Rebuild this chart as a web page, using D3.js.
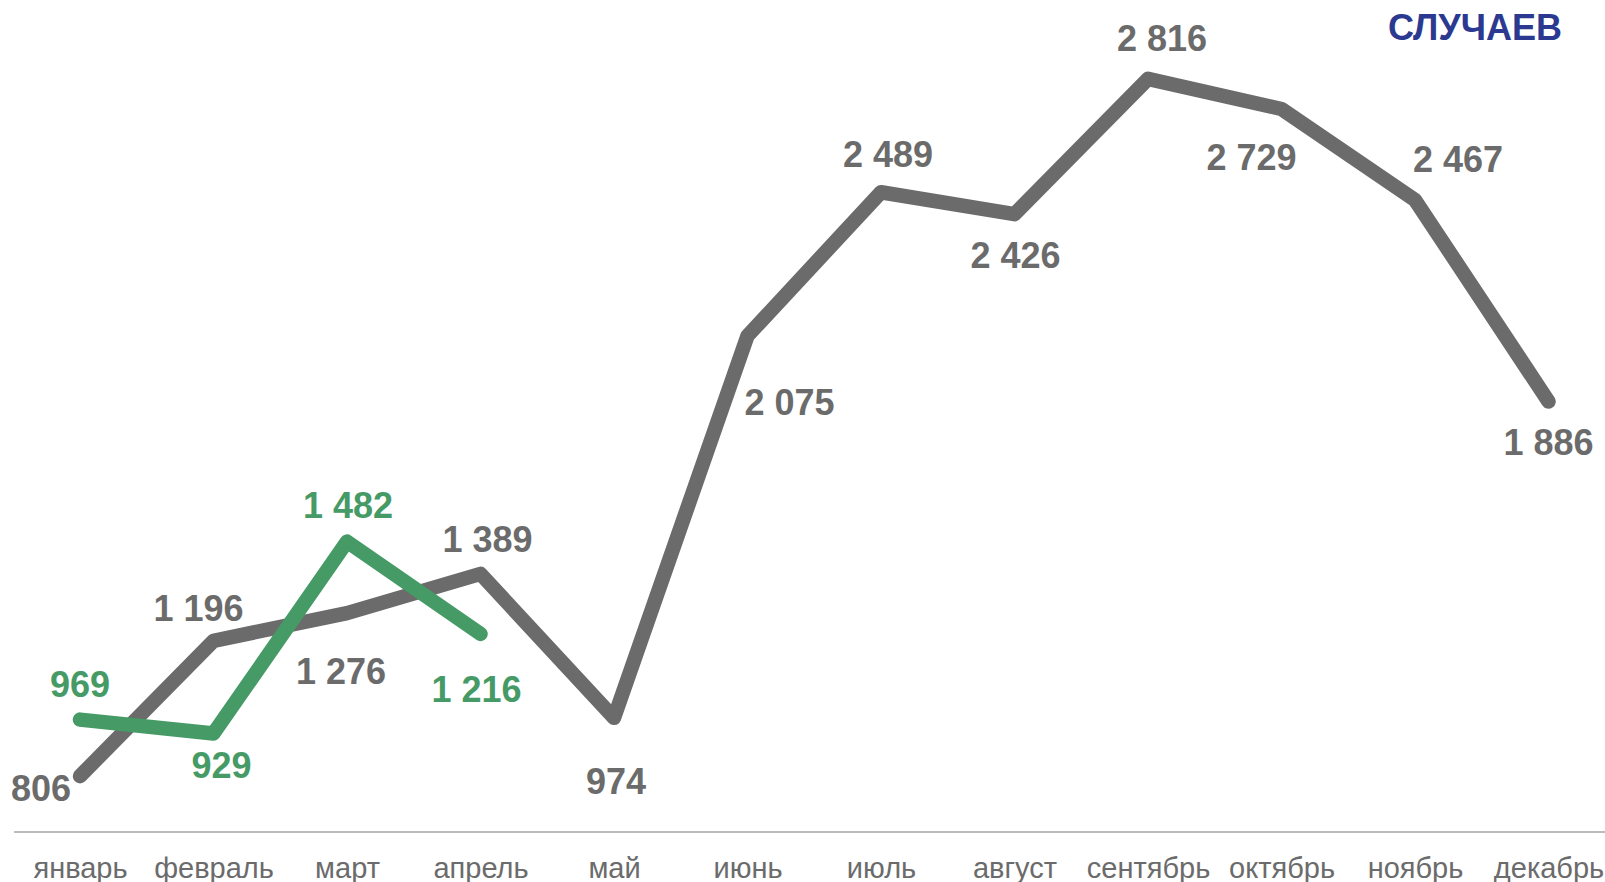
<!DOCTYPE html>
<html>
<head>
<meta charset="utf-8">
<script src="https://cdn.jsdelivr.net/npm/d3@7"></script>
<style>
  html, body { margin: 0; padding: 0; background: #fff; }
  svg { display: block; font-family: "Liberation Sans", Arial, sans-serif; }
</style>
</head>
<body>
<svg id="chart" width="1605" height="882"></svg>
<script>
// ---- data ----
const months = ["январь","февраль","март","апрель","май","июнь","июль","август","сентябрь","октябрь","ноябрь","декабрь"];
const series2023 = [806, 1196, 1276, 1389, 974, 2075, 2489, 2426, 2816, 2729, 2467, 1886];
const series2024 = [969, 929, 1482, 1216];
const titleText = "СЛУЧАЕВ";

// ---- label placement (layout, not data) ----
const grayLabelOffsets = [[-39,12],[-15,-33],[-6,58],[7,-35],[2,63],[42,66],[7,-38],[1,41],[14,-41],[-30,48],[43,-41],[0,41]];
const greenLabelOffsets = [[0,-36],[8,32],[1,-37],[-4,55]];

const grayColor = "#6b6b6b";
const greenColor = "#459a66";
const fmt = v => d3.format(",")(v).replace(/,/g, " ");

const svg = d3.select("#chart");
const x = d3.scalePoint().domain(months).range([80, 1548.5]).padding(0);
const y = d3.scaleLinear().domain([645, 3000]).range([832, 15]);

// axis line
svg.append("line")
  .attr("x1", 14).attr("x2", 1605)
  .attr("y1", y(645)).attr("y2", y(645))
  .attr("stroke", "#a6a6a6").attr("stroke-width", 1.5);

// x axis labels
const xAxis = d3.axisBottom(x).tickSize(0).tickPadding(0);
const gx = svg.append("g").attr("transform", `translate(0,${y(645)})`).call(xAxis);
gx.select(".domain").remove();
gx.selectAll("text")
  .attr("y", 46).attr("dy", null)
  .attr("font-size", 29)
  .attr("font-family", "'Liberation Sans', Arial, sans-serif")
  .attr("fill", "#6b6b6b");

const line = d3.line().x((d, i) => x(months[i])).y(d => y(d));

svg.append("path")
  .datum(series2023)
  .attr("d", line)
  .attr("fill", "none")
  .attr("stroke", grayColor)
  .attr("stroke-width", 14.5)
  .attr("stroke-linejoin", "round")
  .attr("stroke-linecap", "round");

svg.append("path")
  .datum(series2024)
  .attr("d", line)
  .attr("fill", "none")
  .attr("stroke", greenColor)
  .attr("stroke-width", 14.5)
  .attr("stroke-linejoin", "round")
  .attr("stroke-linecap", "round");

function labels(data, offsets, color) {
  svg.append("g").selectAll("text")
    .data(data)
    .join("text")
    .attr("x", (d, i) => x(months[i]) + offsets[i][0])
    .attr("y", (d, i) => y(d) + offsets[i][1])
    .attr("dy", "0.36em")
    .attr("text-anchor", "middle")
    .attr("font-size", 36)
    .attr("font-weight", "bold")
    .attr("fill", color)
    .text(d => fmt(d));
}
labels(series2023, grayLabelOffsets, grayColor);
labels(series2024, greenLabelOffsets, greenColor);

svg.append("text")
  .attr("x", 1562).attr("y", 40)
  .attr("text-anchor", "end")
  .attr("font-size", 36)
  .attr("font-weight", "bold")
  .attr("fill", "#2b3990")
  .text(titleText);
</script>
</body>
</html>
